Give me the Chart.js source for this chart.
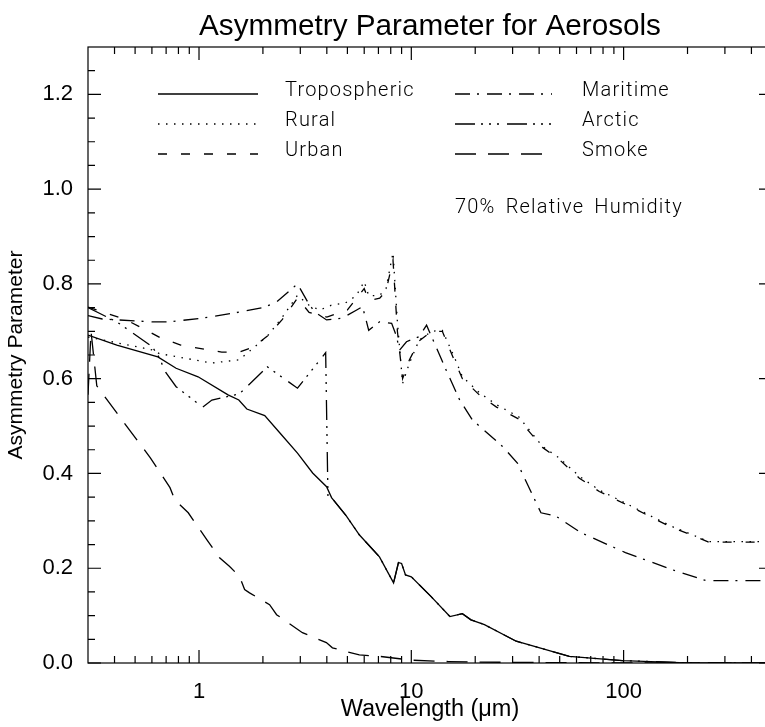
<!DOCTYPE html>
<html>
<head>
<meta charset="utf-8">
<script src="https://cdn.jsdelivr.net/npm/chart.js@4.4.0/dist/chart.umd.min.js"></script>
<style>
  html, body { margin: 0; padding: 0; background: #fff; overflow: hidden; }
  #wrap { width: 765px; height: 727px; overflow: hidden; }
</style>
</head>
<body>
<div id="wrap"><canvas id="chart" width="860" height="727"></canvas></div>
<script>
// wavelengths (um) and asymmetry parameter, per aerosol type
const tropoWl = [0.30, 0.41, 0.64, 0.78, 0.99, 1.37, 1.54, 1.68, 2.04, 2.40, 2.91, 3.43, 3.99, 4.21, 4.93, 5.7, 7.08, 8.25, 8.7, 9.0, 9.39, 10.0, 12.4, 15.2, 17.4, 19.1, 22.1, 31.2, 55.5, 98.6, 183, 500];
const tropoG  = [0.692, 0.671, 0.646, 0.622, 0.604, 0.566, 0.555, 0.536, 0.522, 0.486, 0.443, 0.401, 0.372, 0.349, 0.311, 0.27, 0.224, 0.169, 0.212, 0.21, 0.186, 0.182, 0.140, 0.098, 0.104, 0.091, 0.081, 0.046, 0.014, 0.005, 0.001, 0.0];

const ruralWl = [0.30, 0.60, 0.65, 1.15, 1.55, 2.1, 2.47, 2.91, 3.3, 3.7, 4.2, 4.9, 5.5, 6.0, 6.3, 7.1, 7.6, 8.2, 8.6, 9.1, 9.8, 10.9, 12.5, 14.0, 15.9, 17.4, 21.0, 25.2, 32, 41.5, 49.6, 61.9, 76.8, 110, 136, 169, 210, 252, 500];
const ruralG  = [0.688, 0.661, 0.653, 0.633, 0.64, 0.69, 0.73, 0.776, 0.755, 0.745, 0.755, 0.76, 0.775, 0.805, 0.775, 0.776, 0.79, 0.866, 0.72, 0.59, 0.633, 0.682, 0.70, 0.702, 0.647, 0.604, 0.57, 0.545, 0.52, 0.457, 0.433, 0.394, 0.365, 0.33, 0.309, 0.288, 0.271, 0.256, 0.256];

const urbanWl = [0.30, 0.45, 0.55, 0.66, 0.82, 1.28, 1.55, 1.8, 2.1, 2.47, 2.91, 3.3, 4.0, 5.0, 6.0, 6.3, 7.1, 7.6, 8.2, 8.6, 9.1, 9.8, 10.9, 12.5, 14.0, 15.9, 17.4, 21.0, 25.2, 32, 41.5, 49.6, 61.9, 76.8, 110, 136, 169, 210, 252, 500];
const urbanG  = [0.751, 0.725, 0.705, 0.686, 0.671, 0.656, 0.656, 0.667, 0.69, 0.725, 0.77, 0.74, 0.73, 0.745, 0.79, 0.765, 0.77, 0.785, 0.85, 0.70, 0.6, 0.64, 0.68, 0.70, 0.70, 0.64, 0.6, 0.565, 0.54, 0.515, 0.455, 0.43, 0.39, 0.362, 0.328, 0.307, 0.286, 0.27, 0.255, 0.255];

const mariWl = [0.30, 0.35, 0.60, 0.73, 1.04, 1.48, 2.04, 2.32, 2.91, 3.25, 3.50, 3.99, 4.74, 5.53, 5.89, 6.12, 6.30, 7.08, 8.08, 8.52, 8.80, 9.49, 10.9, 11.8, 14.6, 16.9, 19.4, 26.9, 31.6, 40.8, 48.0, 63.0, 102, 169, 244, 500];
const mariG  = [0.733, 0.726, 0.72, 0.72, 0.728, 0.739, 0.751, 0.762, 0.80, 0.762, 0.741, 0.724, 0.728, 0.745, 0.752, 0.724, 0.702, 0.72, 0.717, 0.689, 0.66, 0.678, 0.689, 0.713, 0.618, 0.555, 0.513, 0.457, 0.422, 0.317, 0.31, 0.275, 0.233, 0.197, 0.174, 0.174];

// past 4 um the arctic curve runs under the tropospheric one
const arcticWl = [0.30, 0.41, 0.60, 0.64, 0.70, 0.78, 1.04, 1.15, 1.55, 2.10, 2.91, 3.95, 4.05, 4.21, 4.93, 5.7, 7.08, 8.25, 8.7, 9.0, 9.39, 10.0, 12.4, 15.2, 17.4, 19.1, 22.1, 31.2, 55.5, 98.6, 183, 500];
const arcticG  = [0.75, 0.72, 0.668, 0.65, 0.612, 0.583, 0.54, 0.555, 0.568, 0.625, 0.58, 0.655, 0.35, 0.349, 0.311, 0.27, 0.224, 0.169, 0.212, 0.21, 0.186, 0.182, 0.140, 0.098, 0.104, 0.091, 0.081, 0.046, 0.014, 0.005, 0.001, 0.0];

const smokeWl = [0.30, 0.31, 0.33, 0.47, 0.59, 0.73, 0.77, 0.89, 1.09, 1.25, 1.39, 1.55, 1.64, 1.73, 2.15, 2.32, 3.07, 3.98, 4.25, 5.69, 7.1, 10.0, 15, 20, 40, 100, 500];
const smokeG  = [0.566, 0.70, 0.585, 0.492, 0.433, 0.37, 0.344, 0.317, 0.26, 0.222, 0.204, 0.183, 0.155, 0.148, 0.123, 0.102, 0.064, 0.043, 0.032, 0.017, 0.014, 0.006, 0.003, 0.002, 0.001, 0, 0];

const xMajor = [1, 10, 100];
const xMinor = [0.4, 0.5, 0.6, 0.7, 0.8, 0.9, 2, 3, 4, 5, 6, 7, 8, 9, 20, 30, 40, 50, 60, 70, 80, 90, 200, 300, 400];
const yMajor = [0, 0.2, 0.4, 0.6, 0.8, 1.0, 1.2];
const yMinor = [0.05, 0.1, 0.15, 0.25, 0.3, 0.35, 0.45, 0.5, 0.55, 0.65, 0.7, 0.75, 0.85, 0.9, 0.95, 1.05, 1.1, 1.15, 1.25];

const pts = (xs, ys) => xs.map((x, i) => ({ x: x, y: ys[i] }));
const FONT = "'Liberation Sans', Arial, sans-serif";
const LEG_FONT = "300 20px Roboto, 'Liberation Sans', sans-serif";

function series(label, xs, ys, dash) {
  return { label, data: pts(xs, ys), borderColor: '#000', borderWidth: 1.3, borderDash: dash,
           pointRadius: 0, fill: false, tension: 0 };
}

const datasets = [
  series('Tropospheric', tropoWl, tropoG, []),
  series('Rural', ruralWl, ruralG, [1.5, 6.5]),
  series('Urban', urbanWl, urbanG, [9, 14]),
  series('Maritime', mariWl, mariG, [15, 7, 2, 8]),
  series('Arctic', arcticWl, arcticG, [20, 6, 2, 6, 2, 6, 2, 8]),
  series('Smoke', smokeWl, smokeG, [21, 12])
];

// title, box + inward ticks on all four sides, legend and note
const decor = {
  id: 'decor',
  afterDraw(chart) {
    const { ctx, chartArea: a, scales: { x, y } } = chart;
    ctx.save();
    ctx.fillStyle = '#000';
    ctx.font = "29.7px " + FONT;
    ctx.textAlign = 'center';
    ctx.textBaseline = 'alphabetic';
    ctx.fillText('Asymmetry Parameter for Aerosols', (a.left + a.right) / 2, 35);

    ctx.strokeStyle = '#000';
    ctx.lineWidth = 1.2;
    ctx.setLineDash([]);
    ctx.strokeRect(a.left, a.top, a.right - a.left, a.bottom - a.top);
    ctx.beginPath();
    const xt = (v, len) => {
      const p = x.getPixelForValue(v);
      ctx.moveTo(p, a.bottom); ctx.lineTo(p, a.bottom - len);
      ctx.moveTo(p, a.top); ctx.lineTo(p, a.top + len);
    };
    const yt = (v, len) => {
      const p = y.getPixelForValue(v);
      ctx.moveTo(a.left, p); ctx.lineTo(a.left + len, p);
      ctx.moveTo(a.right, p); ctx.lineTo(a.right - len, p);
    };
    xMajor.forEach(v => xt(v, 13));
    xMinor.forEach(v => xt(v, 7));
    yMajor.forEach(v => yt(v, 13));
    yMinor.forEach(v => yt(v, 7));
    ctx.stroke();

    // legend
    ctx.font = LEG_FONT;
    ctx.textAlign = 'left';
    ctx.letterSpacing = '1.2px';
    ctx.wordSpacing = '4px';
    chart.data.datasets.forEach((ds, i) => {
      const col = i < 3 ? 0 : 1, row = i % 3;
      const x0 = col ? 455 : 158, x1 = col ? 552 : 258, tx = col ? 582 : 285;
      const base = 96 + row * 30;
      ctx.beginPath();
      ctx.lineWidth = 1.3;
      ctx.setLineDash(ds.borderDash);
      ctx.moveTo(x0, base - 2);
      ctx.lineTo(x1, base - 2);
      ctx.stroke();
      ctx.fillText(ds.label, tx, base);
    });
    ctx.fillText('70% Relative Humidity', 455, 213);
    ctx.restore();
  }
};

new Chart(document.getElementById('chart'), {
  type: 'line',
  data: { datasets },
  options: {
    responsive: false,
    animation: false,
    devicePixelRatio: 1,
    layout: { padding: { left: 0, right: 88, top: 47, bottom: 0 } },
    plugins: {
      legend: { display: false },
      tooltip: { enabled: false },
      title: { display: false }
    },
    scales: {
      x: {
        type: 'logarithmic',
        min: 0.3,
        max: 500,
        grid: { display: false },
        border: { display: false },
        afterBuildTicks: s => { s.ticks = xMajor.map(v => ({ value: v })); },
        afterFit: s => { s.height = 64; },
        ticks: {
          color: '#000',
          font: { family: FONT, size: 22 },
          padding: 8,
          maxRotation: 0,
          autoSkip: false,
          callback: v => String(v)
        },
        title: {
          display: true,
          text: 'Wavelength (μm)',
          color: '#000',
          font: { family: FONT, size: 23.5 },
          padding: { top: 0, bottom: 3 }
        }
      },
      y: {
        min: 0,
        max: 1.3,
        grid: { display: false },
        border: { display: false },
        afterBuildTicks: s => { s.ticks = yMajor.map(v => ({ value: v })); },
        afterFit: s => { s.width = 88; },
        ticks: {
          color: '#000',
          font: { family: FONT, size: 22 },
          padding: 7,
          callback: v => Number(v).toFixed(1)
        },
        title: {
          display: true,
          text: 'Asymmetry Parameter',
          color: '#000',
          font: { family: FONT, size: 21 },
          padding: { top: 4, bottom: 0 }
        }
      }
    }
  },
  plugins: [decor]
});
</script>
</body>
</html>
